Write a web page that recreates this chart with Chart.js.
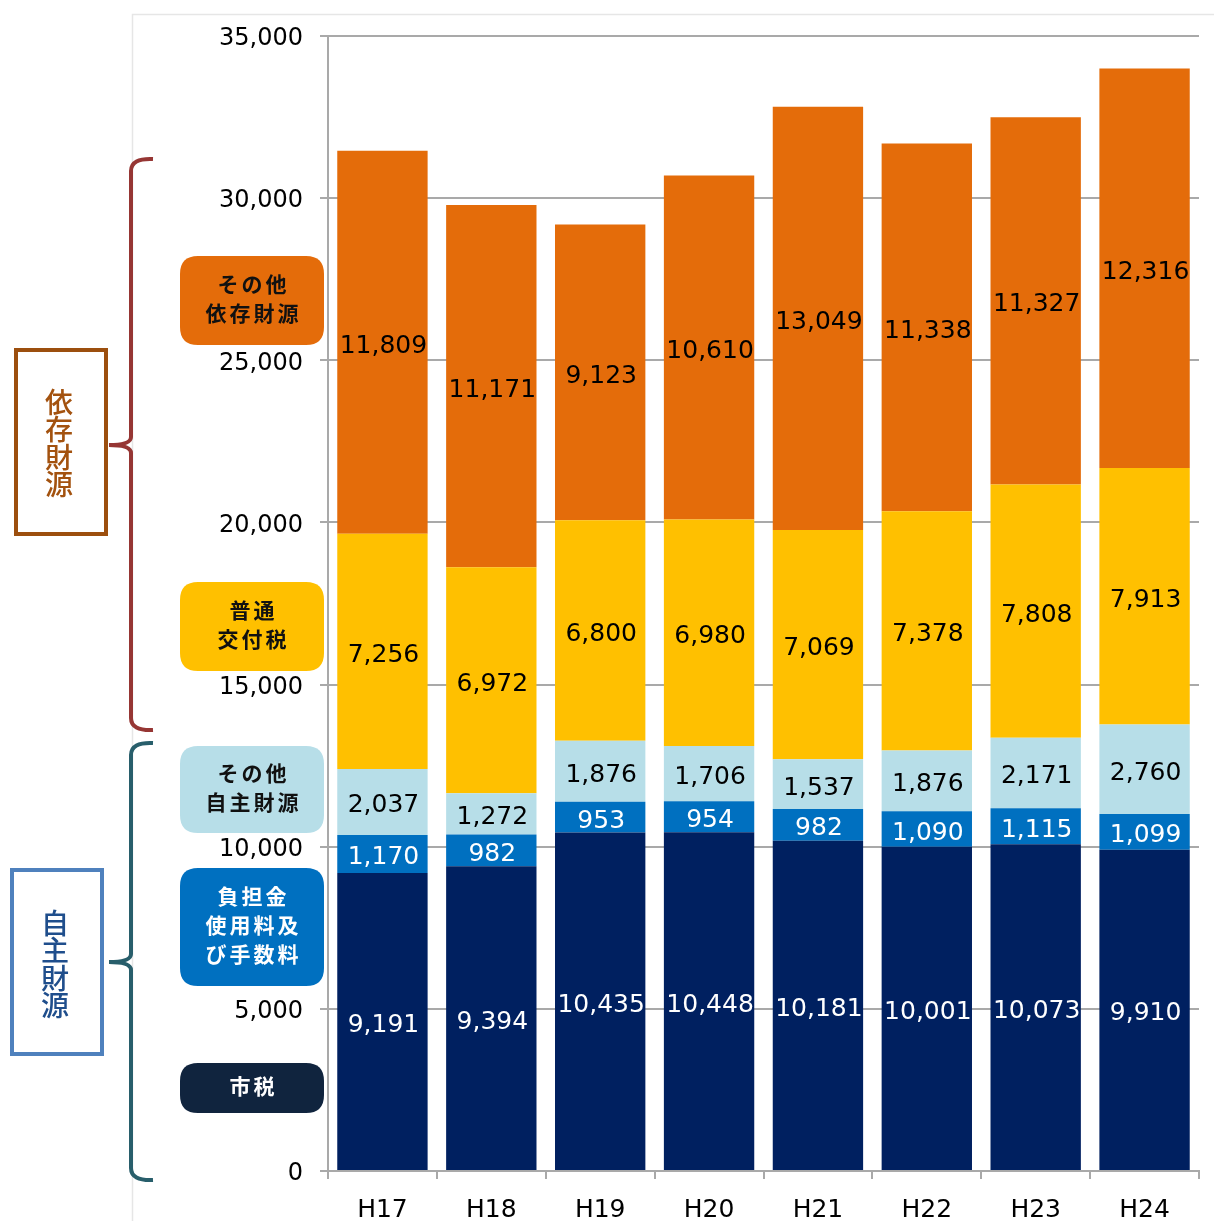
<!DOCTYPE html>
<html lang="ja">
<head>
<meta charset="utf-8">
<title>歳入の推移</title>
<script src="https://cdn.jsdelivr.net/npm/chart.js@4/dist/chart.umd.min.js"></script>
<style>
  html, body { margin: 0; padding: 0; background: #ffffff; }
  canvas { display: block; }
</style>
</head>
<body>
<canvas id="chart" width="1214" height="1221"></canvas>
<script>
// Fiscal years (Heisei)
const years = ['H17', 'H18', 'H19', 'H20', 'H21', 'H22', 'H23', 'H24'];

// Revenue by source (millions of yen), bottom to top of each stack
const shizei      = [9191, 9394, 10435, 10448, 10181, 10001, 10073, 9910];   // 市税
const futankin    = [1170, 982, 953, 954, 982, 1090, 1115, 1099];            // 負担金使用料及び手数料
const jishuOther  = [2037, 1272, 1876, 1706, 1537, 1876, 2171, 2760];        // その他自主財源
const kofuzei     = [7256, 6972, 6800, 6980, 7069, 7378, 7808, 7913];        // 普通交付税
const izonOther   = [11809, 11171, 9123, 10610, 13049, 11338, 11327, 12316]; // その他依存財源

const yMax = 35000;
const yStep = 5000;

const NUM_FONT = '"DejaVu Sans", sans-serif';
const JP_FONT = '"Noto Sans CJK JP", "Noto Sans", sans-serif';
const GRID = '#a9a9a9';

const series = [
  { label: '市税', data: shizei, color: '#002060', text: '#ffffff' },
  { label: '負担金使用料及び手数料', data: futankin, color: '#0070c0', text: '#ffffff' },
  { label: 'その他自主財源', data: jishuOther, color: '#b7dee8', text: '#000000' },
  { label: '普通交付税', data: kofuzei, color: '#ffc000', text: '#000000' },
  { label: 'その他依存財源', data: izonOther, color: '#e46c0a', text: '#000000' }
];

// Value labels centred in every stacked segment
const segmentLabels = {
  id: 'segmentLabels',
  afterDatasetsDraw(chart) {
    const ctx = chart.ctx;
    ctx.save();
    ctx.font = '25px ' + NUM_FONT;
    ctx.textAlign = 'center';
    ctx.textBaseline = 'middle';
    chart.data.datasets.forEach((ds, i) => {
      const meta = chart.getDatasetMeta(i);
      ctx.fillStyle = series[i].text;
      meta.data.forEach((bar, j) => {
        const v = ds.data[j];
        const cy = (bar.y + bar.base) / 2;
        ctx.fillText(v.toLocaleString('en-US'), bar.x + 1, cy + 4);
      });
    });
    ctx.restore();
  }
};

function roundBox(ctx, x, y, w, h, r, fill) {
  ctx.beginPath();
  ctx.moveTo(x + r, y);
  ctx.lineTo(x + w - r, y);
  ctx.quadraticCurveTo(x + w, y, x + w, y + r);
  ctx.lineTo(x + w, y + h - r);
  ctx.quadraticCurveTo(x + w, y + h, x + w - r, y + h);
  ctx.lineTo(x + r, y + h);
  ctx.quadraticCurveTo(x, y + h, x, y + h - r);
  ctx.lineTo(x, y + r);
  ctx.quadraticCurveTo(x, y, x + r, y);
  ctx.closePath();
  ctx.fillStyle = fill;
  ctx.fill();
}

// Draws a string one character at a time with a fixed pitch, centred on cx
function spacedText(ctx, str, cx, cy, pitch) {
  const chars = Array.from(str);
  const start = cx - (chars.length - 1) * pitch / 2;
  chars.forEach((c, k) => ctx.fillText(c, start + k * pitch, cy));
}

function verticalText(ctx, str, cx, cyStart, pitch) {
  Array.from(str).forEach((c, k) => ctx.fillText(c, cx, cyStart + k * pitch));
}

// Curly brace opening to the right, with its point on the left
function brace(ctx, x, top, bottom, mid, color) {
  ctx.save();
  ctx.strokeStyle = color;
  ctx.lineWidth = 4;
  ctx.lineCap = 'butt';
  ctx.beginPath();
  ctx.moveTo(153, top);
  ctx.quadraticCurveTo(x, top - 1, x, top + 12);
  ctx.lineTo(x, mid - 8);
  ctx.quadraticCurveTo(x, mid, x - 22, mid);
  ctx.moveTo(x - 22, mid);
  ctx.quadraticCurveTo(x, mid, x, mid + 8);
  ctx.lineTo(x, bottom - 12);
  ctx.quadraticCurveTo(x, bottom + 1, 153, bottom);
  ctx.stroke();
  ctx.restore();
}

// Category keys, group braces and framed group titles on the left side
const sideKeys = {
  id: 'sideKeys',
  beforeDraw(chart) {
    const ctx = chart.ctx;
    ctx.save();
    ctx.strokeStyle = '#e6e6e6';
    ctx.lineWidth = 1.5;
    ctx.beginPath();
    ctx.moveTo(132.5, 1221);
    ctx.lineTo(132.5, 14.5);
    ctx.lineTo(1214, 14.5);
    ctx.stroke();
    ctx.restore();
  },
  afterDraw(chart) {
    const ctx = chart.ctx;
    ctx.save();

    const keys = [
      { y: 256, h: 89, fill: '#e46c0a', text: '#111111', lines: ['その他', '依存財源'] },
      { y: 582, h: 89, fill: '#ffc000', text: '#111111', lines: ['普通', '交付税'] },
      { y: 746, h: 87, fill: '#b7dee8', text: '#111111', lines: ['その他', '自主財源'] },
      { y: 868, h: 118, fill: '#0070c0', text: '#ffffff', lines: ['負担金', '使用料及', 'び手数料'] },
      { y: 1063, h: 50, fill: '#10243e', text: '#ffffff', lines: ['市税'] }
    ];
    ctx.font = 'bold 21px ' + JP_FONT;
    ctx.textAlign = 'center';
    ctx.textBaseline = 'middle';
    keys.forEach(k => {
      roundBox(ctx, 180, k.y, 144, k.h, 18, k.fill);
      ctx.fillStyle = k.text;
      const lh = 29;
      const cy = k.y + k.h / 2 - 2;
      const first = cy - (k.lines.length - 1) * lh / 2;
      k.lines.forEach((ln, i) => spacedText(ctx, ln, 252, first + i * lh, 24));
    });

    brace(ctx, 131, 159, 730, 445, '#963634');
    brace(ctx, 131, 743, 1180, 962, '#285e6b');

    ctx.lineWidth = 4;
    ctx.strokeStyle = '#9c4f0e';
    ctx.strokeRect(16, 350, 90, 184);
    ctx.strokeStyle = '#4f81bd';
    ctx.strokeRect(12, 870, 90, 184);

    ctx.font = '500 28px ' + JP_FONT;
    ctx.fillStyle = '#a3520f';
    verticalText(ctx, '依存財源', 59, 402, 27.5);
    ctx.fillStyle = '#1f4e8c';
    verticalText(ctx, '自主財源', 55, 923, 27.5);

    ctx.restore();
  }
};

new Chart(document.getElementById('chart'), {
  type: 'bar',
  data: {
    labels: years,
    datasets: series.map(s => ({
      label: s.label,
      data: s.data,
      backgroundColor: s.color,
      borderWidth: 0,
      barPercentage: 0.83,
      categoryPercentage: 1.0
    }))
  },
  options: {
    responsive: false,
    animation: false,
    layout: { padding: { left: 0, right: 15, top: 36, bottom: 0 } },
    plugins: {
      legend: { display: false },
      tooltip: { enabled: false }
    },
    scales: {
      x: {
        stacked: true,
        grid: {
          display: true,
          drawOnChartArea: false,
          drawTicks: true,
          tickLength: 8,
          offset: true,
          color: GRID,
          lineWidth: 2
        },
        border: { display: true, color: GRID, width: 2 },
        ticks: { color: '#000000', font: { family: NUM_FONT, size: 25 }, padding: 16 },
        afterFit(scale) { scale.height = 50; }
      },
      y: {
        stacked: true,
        min: 0,
        max: yMax,
        ticks: {
          stepSize: yStep,
          color: '#000000',
          font: { family: NUM_FONT, size: 24 },
          padding: 17,
          labelOffset: 3,
          callback: v => v.toLocaleString('en-US')
        },
        grid: { color: GRID, lineWidth: 2, tickLength: 8 },
        border: { display: true, color: GRID, width: 2 },
        afterFit(scale) { scale.width = 328; }
      }
    }
  },
  plugins: [segmentLabels, sideKeys]
});
</script>
</body>
</html>
